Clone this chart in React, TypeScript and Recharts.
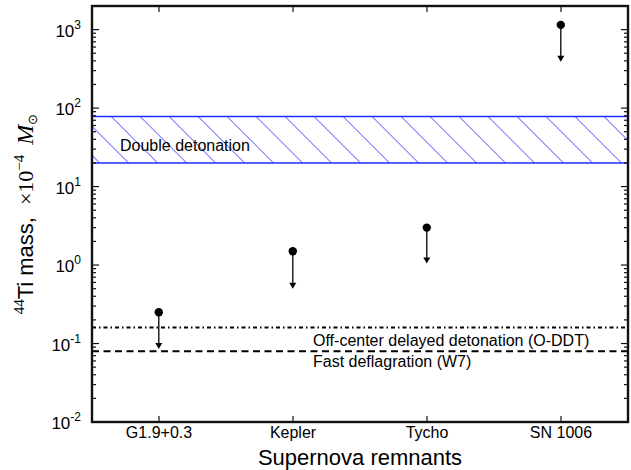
import React from 'react';
import { ComposedChart, XAxis, YAxis, Bar, Line, ReferenceArea, ReferenceLine, Label } from 'recharts';

const remnants = ['G1.9+0.3', 'Kepler', 'Tycho', 'SN 1006'];
const upperLimits = [0.25, 1.5, 3.0, 1150];
const arrowTips = [0.085, 0.5, 1.05, 390];
const doubleDetonationRange = [20, 78];
const oddtLevel = 0.16;
const w7Level = 0.08;
const yDomain = [0.01, 2000];
const decadeTicks = [0.01, 0.1, 1, 10, 100, 1000];
const decadeExponents = ['-2', '-1', '0', '1', '2', '3'];
const minorMultipliers = [2, 3, 4, 5, 6, 7, 8, 9];

const data = remnants.map((name, i) => ({ name, limit: [arrowTips[i], upperLimits[i]], value: upperLimits[i] }));
const minorTicks = decadeTicks
  .flatMap((d) => minorMultipliers.map((m) => +(m * d).toPrecision(3)))
  .filter((v) => v <= yDomain[1]);
const allTicks = [...decadeTicks, ...minorTicks].sort((a, b) => a - b);

const SANS = 'Liberation Sans, Arial, Helvetica, sans-serif';
const SERIF = 'Liberation Serif, Times New Roman, serif';
const BLUE = '#1a2cff';
const INK = '#111111';

const LeftTick = (props: any) => {
  const { x, y, payload } = props;
  const idx = decadeTicks.indexOf(payload.value);
  const major = idx >= 0;
  return (
    <g>
      <line x1={x} x2={x + (major ? 7 : 4)} y1={y} y2={y} stroke={INK} strokeWidth={1.2} />
      {major && (
        <text x={x - 11} y={y + 7} textAnchor="end" fontFamily={SANS} fontSize={17} fill="#000">
          10
          <tspan fontSize={12} dy={-8}>{decadeExponents[idx]}</tspan>
        </text>
      )}
    </g>
  );
};

const RightTick = (props: any) => {
  const { x, y, payload } = props;
  const major = decadeTicks.indexOf(payload.value) >= 0;
  return <line x1={x} x2={x - (major ? 7 : 4)} y1={y} y2={y} stroke={INK} strokeWidth={1.2} />;
};

const BottomTick = (props: any) => {
  const { x, y, payload } = props;
  return (
    <g>
      <line x1={x} x2={x} y1={y} y2={y - 6} stroke={INK} strokeWidth={1.2} />
      <text x={x} y={y + 16} textAnchor="middle" fontFamily={SANS} fontSize={16} fill="#000">
        {payload.value}
      </text>
    </g>
  );
};

const TopTick = (props: any) => {
  const { x, y } = props;
  return <line x1={x} x2={x} y1={y} y2={y + 6} stroke={INK} strokeWidth={1.2} />;
};

const LimitShape = (props: any) => {
  const { x, y, width, height } = props;
  const cx = x + width / 2;
  const top = Math.min(y, y + height);
  const bottom = Math.max(y, y + height);
  return (
    <g>
      <line x1={cx} x2={cx} y1={top} y2={bottom - 5} stroke="#000" strokeWidth={1.3} />
      <polygon points={`${cx - 3.5},${bottom - 6} ${cx + 3.5},${bottom - 6} ${cx},${bottom}`} fill="#000" />
      <circle cx={cx} cy={top} r={4.2} fill="#000" />
    </g>
  );
};

const YLabel = (props: any) => {
  const vb = props.viewBox || { x: 0, y: 6, width: 92, height: 416 };
  const cx = vb.x + 33;
  const cy = vb.y + vb.height / 2;
  return (
    <text
      x={cx}
      y={cy}
      transform={`rotate(-90 ${cx} ${cy})`}
      textAnchor="middle"
      fontFamily={SANS}
      fontSize={22}
      fill="#000"
    >
      <tspan fontFamily={SERIF} fontSize={15} dy={-9}>44</tspan>
      <tspan dy={9}>Ti mass,</tspan>
      <tspan fontFamily={SERIF} fontSize={22} dx={12}>×10</tspan>
      <tspan fontFamily={SERIF} fontSize={15} dy={-9}>−4</tspan>
      <tspan fontFamily={SERIF} fontStyle="italic" fontSize={24} dx={10} dy={9}>M</tspan>
      <tspan fontFamily={SERIF} fontSize={13} dy={4}>⊙</tspan>
    </text>
  );
};

const XLabel = (props: any) => {
  const vb = props.viewBox || { x: 92, y: 422, width: 536, height: 48 };
  return (
    <text x={vb.x + vb.width / 2} y={vb.y + 43} textAnchor="middle" fontFamily={SANS} fontSize={22} fill="#000">
      Supernova remnants
    </text>
  );
};

const BandLabel = (props: any) => {
  const vb = props.viewBox;
  if (!vb) return null;
  return (
    <text x={vb.x + 28} y={vb.y + vb.height / 2 + 11} fontFamily={SANS} fontSize={16} fill="#000">
      Double detonation
    </text>
  );
};

const FrameLabel = (props: any) => {
  const vb = props.viewBox;
  if (!vb) return null;
  return (
    <rect
      x={vb.x}
      y={vb.y}
      width={vb.width}
      height={vb.height}
      fill="none"
      stroke={INK}
      strokeWidth={2.4}
    />
  );
};

const makeLineLabel = (text: string, dy: number) => (props: any) => {
  const vb = props.viewBox;
  if (!vb) return null;
  return (
    <text x={vb.x + 221} y={vb.y + dy} fontFamily={SANS} fontSize={16} fill="#000">
      {text}
    </text>
  );
};

export default function App() {
  return (
    <div style={{ position: 'absolute', left: 0, top: 0, width: 631, height: 470, background: '#fff' }}>
      <svg width={0} height={0} style={{ position: 'absolute' }}>
        <defs>
          <pattern
            id="hatch"
            patternUnits="userSpaceOnUse"
            width={20.5}
            height={20.5}
            patternTransform="translate(23 0) rotate(-45)"
          >
            <line x1={0} y1={-5} x2={0} y2={30} stroke="#0000ff" strokeWidth={1.1} />
          </pattern>
        </defs>
      </svg>
      <ComposedChart
        width={631}
        height={470}
        data={data}
        margin={{ top: 5, right: 2, bottom: 0, left: 0 }}
        barCategoryGap="20%"
      >
        <XAxis
          dataKey="name"
          type="category"
          height={48}
          axisLine={{ stroke: INK, strokeWidth: 2 }}
          tickLine={false}
          tickSize={0}
          tickMargin={0}
          tick={<BottomTick />}
          interval={0}
        >
          <Label content={<XLabel />} />
        </XAxis>
        <XAxis
          xAxisId="top"
          dataKey="name"
          type="category"
          orientation="top"
          height={1}
          axisLine={{ stroke: INK, strokeWidth: 2 }}
          tickLine={false}
          tickSize={0}
          tickMargin={0}
          tick={<TopTick />}
          interval={0}
        />
        <YAxis
          type="number"
          scale="log"
          domain={yDomain}
          allowDataOverflow
          ticks={allTicks}
          interval={0}
          width={92}
          axisLine={{ stroke: INK, strokeWidth: 2 }}
          tickLine={false}
          tickSize={0}
          tickMargin={0}
          tick={<LeftTick />}
        >
          <Label content={<YLabel />} />
        </YAxis>
        <YAxis
          yAxisId="right"
          orientation="right"
          type="number"
          scale="log"
          domain={yDomain}
          allowDataOverflow
          ticks={allTicks}
          interval={0}
          width={1}
          axisLine={{ stroke: INK, strokeWidth: 2 }}
          tickLine={false}
          tickSize={0}
          tickMargin={0}
          tick={<RightTick />}
        />
        <ReferenceArea
          y1={doubleDetonationRange[0]}
          y2={doubleDetonationRange[1]}
          fill="url(#hatch)"
          fillOpacity={1}
          stroke="none"
          ifOverflow="hidden"
        >
          <Label content={<BandLabel />} />
        </ReferenceArea>
        <ReferenceLine y={doubleDetonationRange[0]} stroke={BLUE} strokeWidth={1.5} />
        <ReferenceLine y={doubleDetonationRange[1]} stroke={BLUE} strokeWidth={1.5} />
        <ReferenceLine y={oddtLevel} stroke="#000" strokeWidth={2} strokeDasharray="4 3 1.5 3">
          <Label content={makeLineLabel('Off-center delayed detonation (O-DDT)', 18)} />
        </ReferenceLine>
        <ReferenceLine y={w7Level} stroke="#000" strokeWidth={2} strokeDasharray="7 4.5">
          <Label content={makeLineLabel('Fast deflagration (W7)', 16)} />
        </ReferenceLine>
        <Bar dataKey="limit" shape={<LimitShape />} isAnimationActive={false} />
        <Line
          xAxisId="top"
          yAxisId="right"
          dataKey="value"
          stroke="none"
          strokeOpacity={0}
          dot={false}
          activeDot={false}
          legendType="none"
          isAnimationActive={false}
        />
        <ReferenceArea y1={yDomain[0]} y2={yDomain[1]} fill="none" fillOpacity={0} ifOverflow="visible">
          <Label content={<FrameLabel />} />
        </ReferenceArea>
      </ComposedChart>
    </div>
  );
}
